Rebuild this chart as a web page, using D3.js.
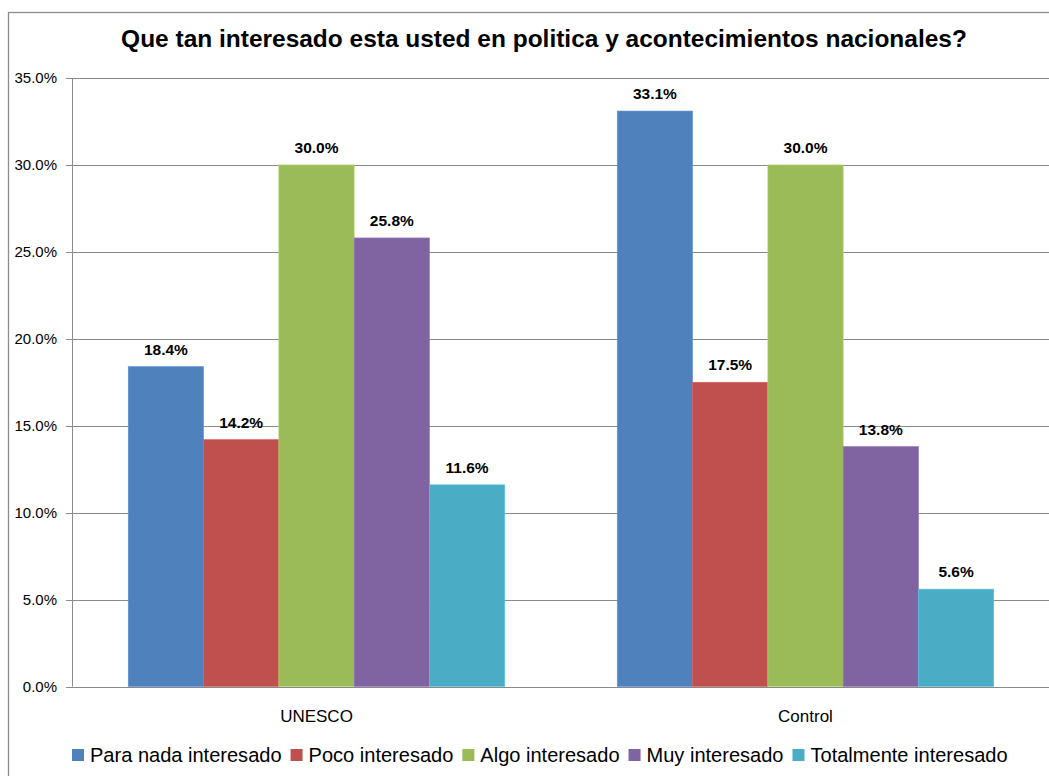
<!DOCTYPE html>
<html>
<head>
<meta charset="utf-8">
<script src="https://cdn.jsdelivr.net/npm/d3@7"></script>
<style>
  html, body { margin: 0; padding: 0; background: #fff; }
  svg { display: block; }
  text { font-family: "Liberation Sans", Arial, sans-serif; }
</style>
</head>
<body>
<svg id="chart" width="1049" height="776"></svg>
<script>
const title = "Que tan interesado esta usted en politica y acontecimientos nacionales?";
const categories = ["UNESCO", "Control"];
const seriesNames = ["Para nada interesado", "Poco interesado", "Algo interesado", "Muy interesado", "Totalmente interesado"];
const seriesColors = ["#4F81BD", "#C0504D", "#9BBB59", "#8064A2", "#4BACC6"];
const paraNada = [18.4, 33.1];
const poco = [14.2, 17.5];
const algo = [30.0, 30.0];
const muy = [25.8, 13.8];
const totalmente = [11.6, 5.6];
const yTicks = [0, 5, 10, 15, 20, 25, 30, 35];

const seriesValues = [paraNada, poco, algo, muy, totalmente];

const svg = d3.select("#chart");
const W = 1049, H = 776;
const plot = { left: 72, right: 1050, top: 78, bottom: 686.5 };

// outer chart border
svg.append("rect")
  .attr("x", 8.5).attr("y", 12.5)
  .attr("width", W + 10).attr("height", H + 10)
  .attr("fill", "#fff").attr("stroke", "#8c8c8c").attr("stroke-width", 1.3);

const x0 = d3.scaleBand().domain(categories).range([plot.left, plot.right]).paddingInner(0.23).paddingOuter(0.115);
const x1 = d3.scaleBand().domain(seriesNames).range([0, x0.bandwidth()]);
const y = d3.scaleLinear().domain([0, 35]).range([plot.bottom, plot.top]);

// gridlines
svg.append("g").selectAll("line").data(yTicks).join("line")
  .attr("x1", plot.left - 6).attr("x2", plot.right)
  .attr("y1", d => Math.round(y(d)) + 0.5).attr("y2", d => Math.round(y(d)) + 0.5)
  .attr("stroke", "#8a8a8a").attr("stroke-width", 1);

// y axis line
svg.append("line")
  .attr("x1", plot.left + 0.5).attr("x2", plot.left + 0.5)
  .attr("y1", plot.top).attr("y2", plot.bottom)
  .attr("stroke", "#8a8a8a").attr("stroke-width", 1);

// y tick labels
svg.append("g").selectAll("text").data(yTicks).join("text")
  .attr("x", 57).attr("y", d => y(d) + 5)
  .attr("text-anchor", "end")
  .attr("font-size", 15).attr("fill", "#000")
  .text(d => d.toFixed(1) + "%");

// bars
const groups = svg.append("g").selectAll("g").data(categories).join("g")
  .attr("transform", c => `translate(${x0(c)},0)`);

groups.each(function(c, ci) {
  const g = d3.select(this);
  seriesNames.forEach((s, si) => {
    const v = seriesValues[si][ci];
    g.append("rect")
      .attr("x", x1(s)).attr("y", y(v))
      .attr("width", x1.bandwidth()).attr("height", y(0) - y(v))
      .attr("fill", seriesColors[si])
      .attr("stroke", d3.color(seriesColors[si]).brighter(0.4)).attr("stroke-width", 0.6);
    g.append("text")
      .attr("x", x1(s) + x1.bandwidth() / 2).attr("y", y(v) - 12)
      .attr("text-anchor", "middle")
      .attr("font-size", 15.5).attr("font-weight", "bold").attr("fill", "#000")
      .text(v.toFixed(1) + "%");
  });
});

// category labels
svg.append("g").selectAll("text").data(categories).join("text")
  .attr("x", c => x0(c) + x0.bandwidth() / 2).attr("y", 722)
  .attr("text-anchor", "middle")
  .attr("font-size", 17).attr("fill", "#000")
  .text(c => c);

// title (fit to reference width)
const tt = svg.append("text")
  .attr("x", 544).attr("y", 47)
  .attr("text-anchor", "middle")
  .attr("font-size", 20).attr("font-weight", "bold").attr("fill", "#000")
  .text(title);
const tw = tt.node().getComputedTextLength();
tt.attr("font-size", 20 * 846 / tw);

// legend (fit to reference span)
function drawLegend(fs) {
  const legend = svg.append("g").attr("class", "legend");
  let lx = 72;
  seriesNames.forEach((s, i) => {
    legend.append("rect")
      .attr("x", lx).attr("y", 749).attr("width", 12).attr("height", 12)
      .attr("fill", seriesColors[i]);
    const t = legend.append("text")
      .attr("x", lx + 18).attr("y", 762)
      .attr("font-size", fs).attr("fill", "#000")
      .text(s);
    lx += 18 + t.node().getComputedTextLength() + 9;
  });
  return lx - 9;
}
const end1 = drawLegend(16);
svg.selectAll("g.legend").remove();
const textTotal16 = end1 - 72 - 5 * 18 - 4 * 9;
const targetText = 1008 - 72 - 5 * 18 - 4 * 9;
drawLegend(16 * targetText / textTotal16);
</script>
</body>
</html>
